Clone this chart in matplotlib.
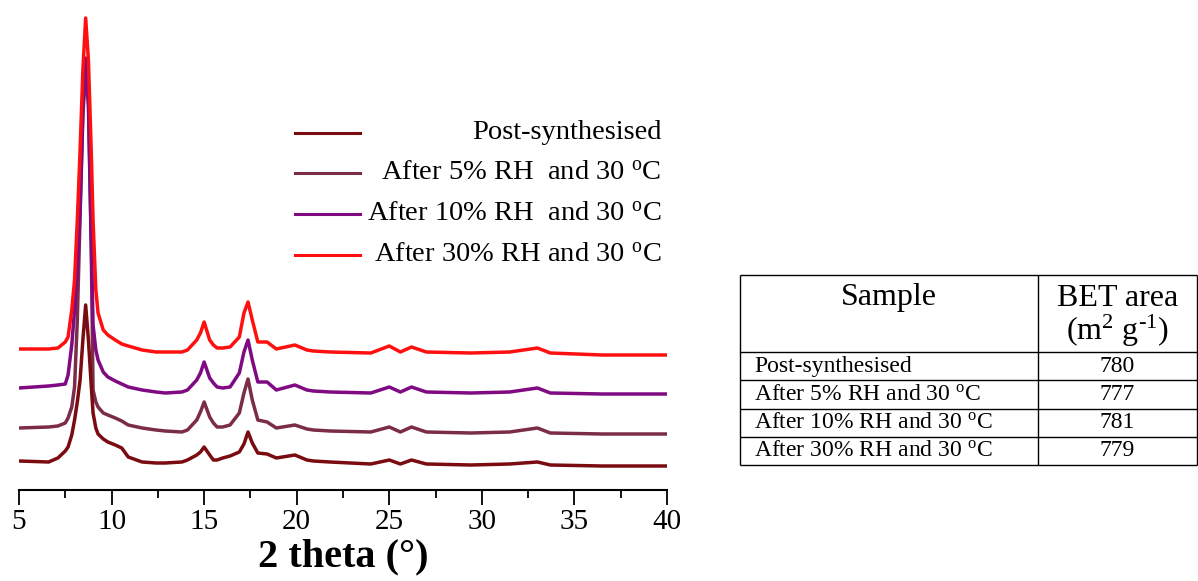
import matplotlib
matplotlib.use("Agg")
import matplotlib.pyplot as plt

# --- Data (intensity in arbitrary units, stacked) ---

two_theta = [5.0, 6.6, 7.1, 7.5, 7.65, 7.85, 8.0, 8.15, 8.3, 8.45,
             8.6, 8.75, 8.9, 9.0, 9.15, 9.27, 9.55, 9.8, 10.2, 10.55,
             10.9, 11.65, 12.4, 12.9, 13.8, 14.1, 14.6, 14.8, 15.0, 15.3,
             15.5, 15.7, 16.0, 16.4, 16.9, 17.15, 17.37, 17.6, 17.9, 18.4,
             18.9, 19.9, 20.55, 20.9, 21.8, 24.0, 25.0, 25.6, 26.2, 27.0,
             29.4, 31.5, 33.0, 33.7, 36.5, 40.0]

post_synth = [29, 28, 32, 39, 43, 55, 70, 88, 110, 150,
              185, 150, 105, 77, 62, 56, 51, 48, 45, 42,
              33, 28, 27, 27, 28, 30, 35, 38, 43, 35,
              30, 30, 32, 34, 38, 46, 58, 47, 37, 36,
              32, 35, 30, 29, 28, 26, 30, 26, 30, 26,
              25, 26, 28, 25, 24, 24]

rh_5 = [62, 63, 64, 67, 72, 83, 103, 170, 275, 375,
        420, 385, 245, 100, 88, 83, 77, 75, 72, 69,
        65, 62, 60, 59, 58, 60, 70, 78, 88, 73,
        67, 63, 63, 65, 77, 97, 111, 90, 70, 68,
        62, 65, 61, 60, 59, 58, 63, 58, 63, 58,
        57, 58, 62, 57, 56, 56]

rh_10 = [102, 104, 105, 106, 115, 145, 180, 220, 280, 380,
         432, 390, 250, 165, 140, 130, 118, 113, 109, 106,
         103, 100, 98, 97, 98, 100, 110, 117, 128, 112,
         107, 103, 102, 103, 117, 138, 150, 130, 108, 108,
         100, 105, 100, 99, 98, 97, 103, 98, 103, 98,
         97, 98, 102, 97, 96, 96]

rh_30 = [141, 141, 142, 148, 153, 180, 210, 270, 340, 420,
         472, 430, 340, 270, 200, 177, 160, 155, 150, 146,
         144, 140, 138, 138, 138, 140, 150, 157, 168, 150,
         145, 142, 142, 143, 153, 177, 188, 170, 148, 148,
         141, 145, 140, 139, 138, 137, 144, 138, 143, 138,
         137, 138, 142, 137, 135, 135]

legend_labels = ["Post-synthesised",
                 r"After 5% RH  and 30 $^{\mathrm{o}}$C",
                 r"After 10% RH  and 30 $^{\mathrm{o}}$C",
                 r"After 30% RH and 30 $^{\mathrm{o}}$C"]
line_colors = ["#7a0b10", "#7b2c47", "#7f0a82", "#ff1010"]

table_samples = ["Post-synthesised",
                 r"After 5% RH and 30 $^{\mathrm{o}}$C",
                 r"After 10% RH and 30 $^{\mathrm{o}}$C",
                 r"After 30% RH and 30 $^{\mathrm{o}}$C"]
bet_area = [780, 777, 781, 779]

# --- Style ---
plt.rcParams["font.family"] = ["Liberation Serif", "DejaVu Serif"]
plt.rcParams["mathtext.fontset"] = "custom"
plt.rcParams["mathtext.rm"] = "Liberation Serif"
plt.rcParams["mathtext.it"] = "Liberation Serif:italic"
plt.rcParams["mathtext.bf"] = "Liberation Serif:bold"

fig = plt.figure(figsize=(11.98, 5.81), dpi=100)

# --- XRD panel ---
ax = fig.add_axes([19 / 1198, 91 / 581, 648 / 1198, 490 / 581])
series = [post_synth, rh_5, rh_10, rh_30]
draw_order = [1, 0, 2, 3]   # 5% peak sits under the 10% one
for i in draw_order:
    ax.plot(two_theta, series[i], color=line_colors[i], lw=2.5,
            solid_joinstyle="round")

ax.set_xlim(5, 40)
ax.set_ylim(0, 490)
ax.set_xticks(range(5, 41, 5))
ax.set_xticks([x + 2.5 for x in range(5, 40, 5)], minor=True)
ax.tick_params(axis="x", which="major", length=11, width=1.3, labelsize=21, pad=3)
ax.tick_params(axis="x", which="minor", length=6, width=1.3)
ax.set_yticks([])
for side in ["left", "top", "right"]:
    ax.spines[side].set_visible(False)
ax.spines["bottom"].set_linewidth(1.5)
ax.set_xlabel("2 theta (°)", fontsize=29, fontweight="bold", labelpad=2)

# hand-made legend: line on the left, text aligned right
legend_y = [0.7286, 0.647, 0.563, 0.4796]
for label, color, ly in zip(legend_labels, line_colors, legend_y):
    ax.plot([0.426, 0.526], [ly, ly], color=color, lw=2.2,
            transform=ax.transAxes, clip_on=False)
    ax.text(0.992, ly, label, transform=ax.transAxes, ha="right", va="center",
            fontsize=20.5)

# --- BET table ---
tax = fig.add_axes([740 / 1198, 116 / 581, 457 / 1198, 190 / 581])
tax.set_xlim(0, 457)
tax.set_ylim(190, 0)
tax.axis("off")

header_h = 77
row_h = (190 - header_h) / len(bet_area)
col_split = 298
row_edges = [0, header_h] + [header_h + row_h * (k + 1) for k in range(len(bet_area))]
tax.hlines(row_edges, 0, 457, color="black", lw=1.0, clip_on=False)
tax.vlines([0, col_split, 457], 0, 190, color="black", lw=1.0, clip_on=False)

tax.text(col_split / 2, 23, "Sample", ha="center", va="center", fontsize=23)
tax.text((col_split + 457) / 2, 23, "BET area", ha="center", va="center", fontsize=23)
tax.text((col_split + 457) / 2, 56, "(m$^{\\mathrm{2}}$ g$^{\\mathrm{\u2010}1}$)",
         ha="center", va="center", fontsize=23)
for k, (name, val) in enumerate(zip(table_samples, bet_area)):
    yc = header_h + row_h * (k + 0.5)
    tax.text(14, yc, name, ha="left", va="center", fontsize=17)
    tax.text((col_split + 457) / 2, yc, str(val), ha="center", va="center", fontsize=17)

fig.savefig("out.png", dpi=100, facecolor="white")
